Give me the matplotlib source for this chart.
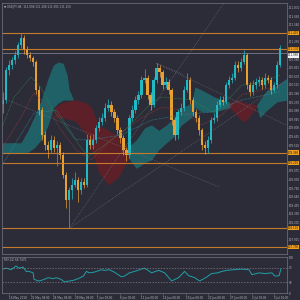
import numpy as np
import matplotlib.pyplot as plt

# 시세 데이터 (USDJPY H4, 그림에서 읽은 근사값)
closes = [110.27, 110.78, 110.86, 110.94, 111.03, 111.20, 111.32, 111.11, 111.03, 110.98,
          110.91, 110.44, 110.10, 109.68, 109.51, 109.43, 109.60, 109.46, 109.51, 109.34,
          109.01, 108.58, 108.75, 108.84, 108.92, 108.75, 108.89, 108.84, 109.60, 109.51,
          109.60, 109.80, 109.90, 109.97, 110.14, 110.19, 110.07, 109.97, 109.76, 109.63,
          109.43, 109.34, 109.97, 110.10, 110.27, 110.35, 110.61, 110.64, 110.35, 110.19,
          110.61, 110.81, 110.74, 110.52, 110.57, 110.44, 109.93, 109.68, 110.07, 110.14,
          110.44, 110.61, 110.27, 110.07, 109.97, 109.76, 109.51, 109.46, 109.60, 109.93,
          109.97, 110.19, 110.27, 110.24, 110.52, 110.61, 110.64, 110.86, 110.81, 110.91,
          111.03, 110.52, 110.41, 110.52, 110.57, 110.61, 110.52, 110.64, 110.61, 110.44,
          110.52, 110.86, 111.15]
highs = [110.40, 110.82, 110.95, 111.00, 111.10, 111.25, 111.40, 111.36, 111.18, 111.08,
         111.02, 110.95, 110.50, 110.15, 109.75, 109.58, 109.68, 109.66, 109.58, 109.56,
         109.40, 109.05, 108.80, 108.95, 109.05, 108.98, 108.95, 108.95, 109.70, 109.68,
         109.70, 109.85, 109.98, 110.05, 110.22, 110.28, 110.25, 110.12, 110.02, 109.82,
         109.68, 109.48, 110.02, 110.18, 110.33, 110.42, 110.68, 110.80, 110.70, 110.40,
         110.66, 110.90, 110.86, 110.78, 110.66, 110.62, 110.48, 109.98, 110.12, 110.22,
         110.50, 110.72, 110.66, 110.32, 110.12, 110.02, 109.80, 109.58, 109.66, 109.98,
         110.05, 110.25, 110.34, 110.33, 110.58, 110.68, 110.72, 110.92, 110.92, 110.98,
         111.11, 111.06, 110.58, 110.60, 110.64, 110.68, 110.66, 110.72, 110.70, 110.65,
         110.58, 110.92, 111.20]
lows = [110.05, 110.22, 110.70, 110.80, 110.88, 110.98, 111.15, 111.05, 110.98, 110.92,
        110.85, 110.38, 110.02, 109.60, 109.42, 109.30, 109.38, 109.40, 109.15, 109.28,
        108.95, 108.45, 108.11, 108.60, 108.80, 108.55, 108.68, 108.78, 108.80, 109.45,
        109.45, 109.55, 109.75, 109.85, 109.92, 110.08, 110.00, 109.90, 109.70, 109.55,
        109.35, 109.25, 109.30, 109.92, 110.05, 110.20, 110.30, 110.55, 110.28, 110.10,
        110.15, 110.55, 110.65, 110.45, 110.48, 110.38, 109.85, 109.60, 109.62, 110.02,
        110.08, 110.40, 110.20, 110.00, 109.90, 109.68, 109.42, 109.36, 109.38, 109.55,
        109.88, 109.92, 110.15, 110.18, 110.20, 110.48, 110.55, 110.60, 110.74, 110.76,
        110.88, 110.45, 110.34, 110.36, 110.46, 110.50, 110.46, 110.48, 110.55, 110.38,
        110.40, 110.48, 110.82]
first_open = 110.20

# 구름대 (상단/하단)
teal1_x = [-1, 4.3, 6, 8.3, 10.3, 12.7, 15, 16.7, 18.3, 20, 21.3, 22, 23.3]
teal1_top = [109.55, 109.55, 109.55, 109.76, 109.98, 110.27, 110.64, 110.86, 110.91, 110.89, 110.69, 110.44, 110.29]
teal1_bot = [109.38, 109.38, 109.38, 109.39, 109.46, 109.60, 109.85, 110.14, 110.22, 110.27, 110.27, 110.27, 110.27]
red1_x = [17, 19.3, 23.3, 24.3, 27.7, 29.3, 31.7, 35, 38.3, 41.7]
red1_top = [110.14, 110.22, 110.27, 110.27, 110.22, 110.15, 109.85, 109.76, 109.65, 109.48]
red1_bot = [109.97, 109.97, 109.93, 109.90, 109.68, 109.43, 109.06, 108.84, 108.97, 109.29]
teal2_x = [41.7, 44.3, 47, 49.3, 51.7, 54.3, 56.7, 59.3, 62.7, 63.7, 66, 70.3, 76]
teal2_top = [109.48, 109.60, 109.80, 109.85, 109.76, 109.85, 109.97, 110.14, 110.22, 110.49, 110.44, 110.32, 110.22]
teal2_bot = [109.29, 109.12, 109.21, 109.26, 109.43, 109.55, 109.65, 109.85, 109.98, 110.15, 110.07, 110.07, 110.15]
red2_x = [75.3, 78.3, 80.3, 82.7, 84.3]
red2_top = [110.24, 110.27, 110.22, 110.20, 110.19]
red2_bot = [110.14, 109.97, 109.90, 110.05, 110.17]
teal3_x = [84.3, 85.3, 87.7, 91, 94.4]
teal3_top = [110.19, 110.27, 110.44, 110.52, 110.64]
teal3_bot = [110.17, 109.97, 110.10, 110.24, 110.27]

# 이동평균 (점선)
green_x = [-0.7, 3.7, 9.3, 12.7, 16, 21.7, 28.3, 40.3, 49.3, 52.7, 62.7, 70.3, 79.3, 86, 92]
ma_green = [109.76, 110.32, 110.66, 110.47, 110.15, 109.76, 109.31, 109.76, 110.22, 110.32,
            110.27, 110.05, 110.52, 110.57, 110.69]
red_x = [-0.7, 6, 10.3, 14.3, 19.3, 24.3, 29.3, 36, 46, 52.7, 59.3, 66, 72.7, 79.3, 86, 92]
ma_red = [109.43, 109.98, 110.39, 110.19, 109.76, 109.43, 109.26, 109.60, 109.97, 110.15,
          110.10, 109.85, 110.02, 110.36, 110.44, 110.52]
tealma_x = [-0.7, 10.3, 17.7, 24.3, 29.3, 39.3, 49.3, 59.3, 69.3, 79.3, 92]
ma_teal = [109.14, 110.05, 110.10, 109.60, 109.60, 109.68, 109.93, 110.02, 110.07, 110.27, 110.41]

# 수평선
levels = [111.40, 111.13, 109.38, 109.21, 108.11, 107.79]
bid = 111.06

# RSI(14)
rsi_x = [0, 1, 2.7, 4.3, 5.3, 6.7, 7.7, 8.7, 10, 10.3, 11.7, 12.7, 13.7, 15, 16.7, 17.7,
         19.3, 20.3, 21.7, 23.3, 25, 26.7, 27.7, 28.7, 30.3, 32.7, 33.7, 35.3, 37, 39.3,
         40.3, 42, 43.7, 46, 47, 48.7, 49.3, 51.7, 53.7, 56, 58.3, 60.3, 61.7, 63.7, 65.3,
         67.3, 69.3, 71.3, 72.7, 74.3, 76.7, 79.3, 81.7, 82.7, 85, 87, 89.3, 90.3, 91.7, 92.3]
rsi_vals = [66.5, 69, 64.7, 75, 69, 72, 60, 60, 56, 38, 33.5, 35, 38, 42.5, 40, 42.5,
            38, 31, 33, 35, 40, 47, 60, 56, 58, 64.7, 63, 64.7, 58, 45,
            47, 56, 60, 66.5, 69, 60, 56, 63, 56, 33.5, 42.5, 60, 48, 42.5, 33.5,
            42.5, 54, 56, 60, 63, 64.7, 66.5, 64.7, 51, 56, 54, 56, 47, 48, 66.7]

date_x = [2, 9.3, 16.7, 24, 31.3, 38.7, 46, 53.3, 60.7, 68, 75.3, 82.7, 90]
date_labels = ['16 May 2018', '21 May 08:00', '24 May 08:00', '29 May 08:00', '1 Jun 08:00',
               '6 Jun 08:00', '11 Jun 08:00', '14 Jun 08:00', '19 Jun 08:00', '22 Jun 08:00',
               '27 Jun 08:00', '2 Jul 08:00', '5 Jul 16:00']

bg = '#2c2c38'
grid_c = '#6a6a75'
txt_c = '#b4b4bc'
bull = '#21b9c4'
bear = '#e8a030'
line_c = '#c77a2a'
fs = 2.0

fig = plt.figure(figsize=(3, 3), dpi=100, facecolor=bg)
ax = fig.add_axes([0.0067, 0.1533, 0.95, 0.8367], facecolor=bg)
ax2 = fig.add_axes([0.0067, 0.0233, 0.95, 0.12], facecolor=bg)

# 구름대 그리기
for xs, top, bot, c in [(teal1_x, teal1_top, teal1_bot, '#1d6f74'),
                        (red1_x, red1_top, red1_bot, '#6a1d24'),
                        (teal2_x, teal2_top, teal2_bot, '#1d6f74'),
                        (red2_x, red2_top, red2_bot, '#6a1d24'),
                        (teal3_x, teal3_top, teal3_bot, '#1d6f74')]:
    ax.fill_between(xs, bot, top, color=c, alpha=0.8, lw=0)

# 추세선 (회색 점선)
dots = (0, (1, 1.5))
ax.plot([22, 74], [108.11, 111.95], color='#6c6c78', lw=0.5, ls=dots)
ax.plot([22, 94], [108.11, 110.60], color='#6c6c78', lw=0.5, ls=dots)
ax.plot([51, 94], [110.89, 109.85], color='#6c6c78', lw=0.5, ls=dots)
ax.plot([0, 72], [110.30, 108.80], color='#6c6c78', lw=0.5, ls=dots)
ax.plot([51, 60], [110.89, 110.70], color='#6c6c78', lw=0.5, ls=dots)

ax.plot(green_x, ma_green, color='#2f8a4a', lw=0.5, ls=(0, (1, 1)))
ax.plot(red_x, ma_red, color='#9a3a3a', lw=0.5, ls=(0, (1, 1)))
ax.plot(tealma_x, ma_teal, color='#2a8a96', lw=0.5, ls=(0, (1, 1)))

# 수평선
for lv in levels:
    ax.axhline(lv, color=line_c, lw=0.8)
ax.axhline(bid, color='#8a8a96', lw=0.5)

# 캔들
x = np.arange(len(closes))
opens = [first_open] + closes[:-1]
for i in x:
    o, c = opens[i], closes[i]
    col = bull if c >= o else bear
    ax.vlines(i, lows[i], highs[i], color=col, lw=0.5)
    ax.bar(i, max(abs(c - o), 0.01), bottom=min(o, c), width=0.75, color=col, lw=0)

ax.set_xlim(-0.33, 94.33)
ax.set_ylim(107.674, 111.906)
ax.yaxis.tick_right()
# 라벨 박스와 겹치는 눈금은 빼기
ticks = [t for t in np.arange(107.77, 111.9, 0.145)
         if min(abs(t - lv) for lv in levels + [bid]) > 0.06]
ax.set_yticks(ticks)
ax.set_yticklabels(['%.3f' % t for t in ticks], fontsize=fs, color=txt_c)
ax.tick_params(axis='y', length=1.0, width=0.4, color=grid_c, pad=0.5)
ax.set_xticks([])
for s in ax.spines.values():
    s.set_color(grid_c)
    s.set_linewidth(0.6)
for lv in levels:
    ax.text(1.003, lv, '%.3f' % lv, transform=ax.get_yaxis_transform(), fontsize=fs,
            color='#1e1e1e', va='center', ha='left',
            bbox=dict(boxstyle='square,pad=0.12', fc='#f0a020', ec='none'))
ax.text(1.003, bid, '%.3f' % bid, transform=ax.get_yaxis_transform(),
        fontsize=fs, color='#1e1e1e', va='top', ha='left',
        bbox=dict(boxstyle='square,pad=0.12', fc='#f2f2f2', ec='none'))
ax.text(0.008, 0.993, '\u25bc USDJPY,H4  111.098 111.208 111.065 111.150', transform=ax.transAxes,
        fontsize=fs, color=txt_c, va='top', ha='left')

# RSI
ax2.plot(rsi_x, rsi_vals, color='#1fa0a8', lw=0.7)
ax2.axhline(70, color='#80808a', lw=0.5, ls=(0, (2, 2)))
ax2.axhline(30, color='#80808a', lw=0.5, ls=(0, (2, 2)))
ax2.set_xlim(-0.33, 94.33)
ax2.set_ylim(3, 100)
ax2.yaxis.tick_right()
ax2.set_yticks([100, 70, 30, 0])
ax2.set_yticklabels(['100', '70', '30', '0'], fontsize=fs, color=txt_c)
ax2.tick_params(axis='y', length=1.0, width=0.4, color=grid_c, pad=0.5)
ax2.set_xticks(date_x)
ax2.set_xticklabels(date_labels, fontsize=fs, color=txt_c, ha='left')
ax2.tick_params(axis='x', length=2, width=0.4, color=grid_c, pad=0.5)
for s in ax2.spines.values():
    s.set_color(grid_c)
    s.set_linewidth(0.6)
ax2.text(0.008, 0.97, 'RSI(14) 66.7470', transform=ax2.transAxes, fontsize=fs,
         color=txt_c, va='top', ha='left')

fig.savefig('out.png', dpi=100, facecolor=bg)
